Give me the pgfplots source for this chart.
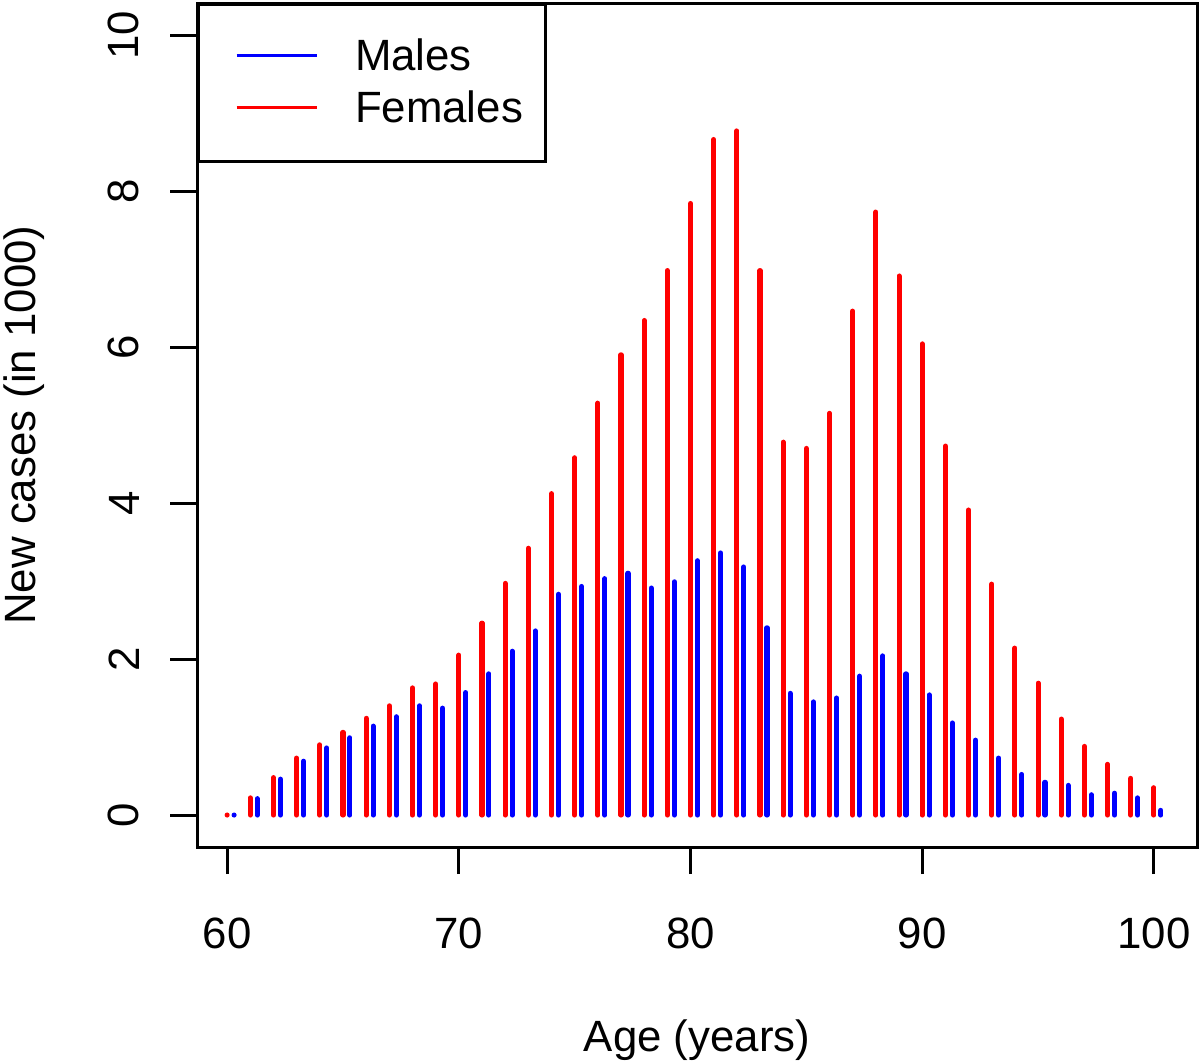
\documentclass[border=0pt]{standalone}
\usepackage{fontspec}
\setmainfont{Liberation Sans}
\usepackage{pgfplots}
\pgfplotsset{compat=1.18}
\newcommand\lbl{\fontsize{14.6bp}{17.5bp}\selectfont}
\pgfplotsset{stick legend/.style={legend image code/.code={%
    \path[draw=none, fill=none] (0bp,-1bp) rectangle (31.67bp,1bp);
    \draw[##1, line width=1bp, line cap=butt] (5bp,0.6bp) -- (31.67bp,0.6bp);}}}

\begin{document}
\begin{tikzpicture}
\path[use as bounding box] (0,0) rectangle (400bp,353.67bp);
\begin{axis}[
  at={(65.67bp,71.33bp)}, anchor=south west,
  scale only axis, width=333.33bp, height=281.33bp,
  xmin=58.7, xmax=101.86, ymin=-0.41, ymax=10.41,
  axis line style={line width=1bp},
  xtick={60,70,...,100}, ytick={0,2,...,10},
  xtick pos=bottom, ytick pos=left,
  tick align=outside, major tick length=9bp,
  every tick/.style={black, line width=1bp},
  tick label style={font=\lbl, inner sep=0pt},
  /pgf/number format/assume math mode=true,
  xticklabel style={anchor=north, yshift=-14.33bp},
  yticklabel style={xshift=-10bp, rotate=90, anchor=south},
  xlabel={Age (years)}, ylabel={New cases (in 1000)},
  label style={font=\lbl, inner sep=0pt},
  xlabel style={at={(axis description cs:0.5,0)}, anchor=base, yshift=-68.3bp},
  ylabel style={at={([xshift=-54bp]axis description cs:0,0.5)}, anchor=base},
  legend style={at={(0,1)}, anchor=north west, draw=black, line width=1bp,
    inner xsep=7.67bp, inner ysep=11.5bp, row sep=5.2bp, column sep=12.33bp,
    font=\lbl, nodes={inner sep=0pt}},
  legend cell align=left,
]
\addplot[ycomb, blue, line width=1.7bp, line cap=round, stick legend] coordinates {
(60.3,0.0) (61.3,0.21) (62.3,0.46) (63.3,0.69) (64.3,0.86) (65.3,0.99)
(66.3,1.14) (67.3,1.26) (68.3,1.40) (69.3,1.37) (70.3,1.57) (71.3,1.81)
(72.3,2.10) (73.3,2.36) (74.3,2.83) (75.3,2.93) (76.3,3.03) (77.3,3.10)
(78.3,2.91) (79.3,2.99) (80.3,3.26) (81.3,3.36) (82.3,3.18) (83.3,2.40)
(84.3,1.56) (85.3,1.45) (86.3,1.50) (87.3,1.78) (88.3,2.04) (89.3,1.81)
(90.3,1.54) (91.3,1.18) (92.3,0.96) (93.3,0.73) (94.3,0.52) (95.3,0.42)
(96.3,0.38) (97.3,0.26) (98.3,0.28) (99.3,0.22) (100.3,0.06)
};
\addlegendentry{Males}
\addplot[ycomb, red, line width=1.7bp, line cap=round, stick legend] coordinates {
(60,0.0) (61,0.22) (62,0.48) (63,0.73) (64,0.90) (65,1.06)
(66,1.24) (67,1.40) (68,1.63) (69,1.68) (70,2.05) (71,2.46)
(72,2.97) (73,3.42) (74,4.12) (75,4.58) (76,5.28) (77,5.90)
(78,6.34) (79,6.98) (80,7.84) (81,8.66) (82,8.77) (83,6.98)
(84,4.78) (85,4.70) (86,5.15) (87,6.46) (88,7.73) (89,6.91)
(90,6.04) (91,4.73) (92,3.91) (93,2.96) (94,2.14) (95,1.69)
(96,1.23) (97,0.88) (98,0.65) (99,0.47) (100,0.35)
};
\addlegendentry{Females}
\end{axis}
\end{tikzpicture}
\end{document}
